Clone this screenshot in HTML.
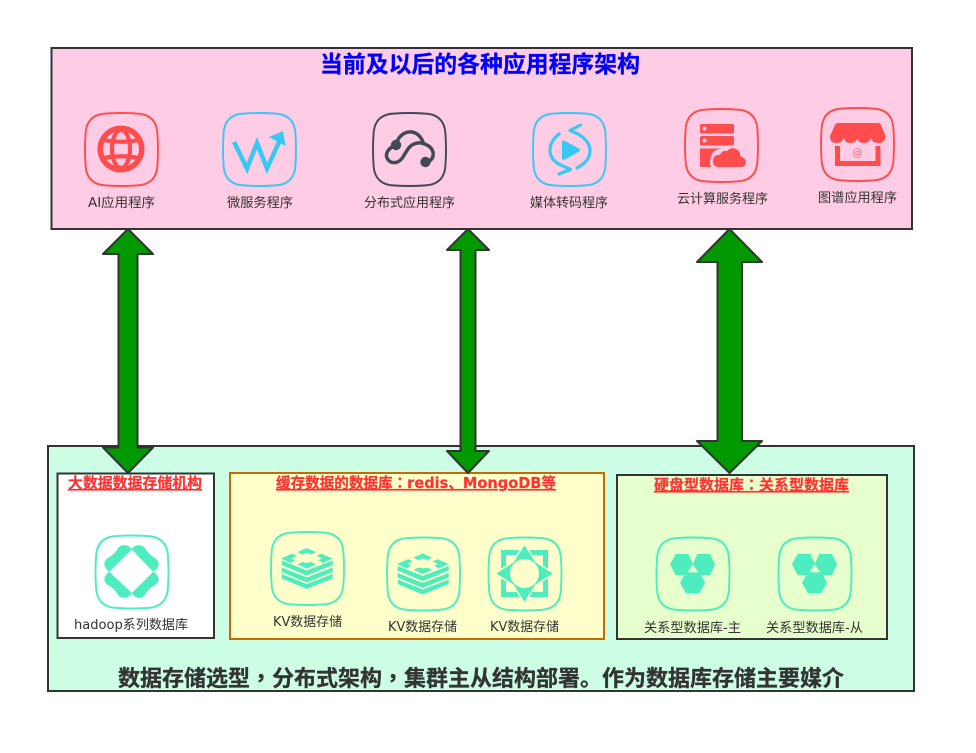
<!DOCTYPE html>
<html><head><meta charset="utf-8">
<style>
html,body{margin:0;padding:0;background:#fff}
svg{display:block}
text{font-family:"DejaVu Sans","Noto Sans CJK SC",sans-serif;}
.l{font-size:13px;fill:#333}
.h{font-size:15px;font-weight:bold;fill:#FF3333;text-decoration:underline;stroke:#FF3333;stroke-width:.2}
.p{font-family:"Noto Sans CJK TC",sans-serif}
.s{fill:none;stroke-width:1.9}
</style></head><body>
<svg width="976" height="753" viewBox="0 0 976 753" xmlns="http://www.w3.org/2000/svg">
<defs>
<path id="sq" d="M22 0.5 Q36.5 -0.5 51 0.5 Q72 1 72.5 22 Q73.5 36.5 72.5 51 Q72 72 51 72.5 Q36.5 73.5 22 72.5 Q1 72 0.5 51 Q-0.5 36.5 0.5 22 Q1 1 22 0.5Z"/>
<g id="redis" fill="#4EEDBF">
<path d="M26.500 20 L35.700 16 L45 20 L40.500 22.500 L35.700 21 L31 22.500 Z"/>
<path d="M10 26.500 L21 21.800 L26 23.700 L20.500 26.300 L24 28.200 L19.500 31 Z"/>
<path d="M61.400 26.500 L50.400 21.800 L45.400 23.700 L50.900 26.300 L47.400 28.200 L51.900 31 Z"/>
<path d="M26.500 32.500 L31.500 30 L35.700 31 L40 30 L45 32.500 L35.700 36.500 Z"/>
<path d="M10.700 28.500 L35.700 38.500 L61.700 28.500 L61.700 33 L35.700 43.500 L10.700 33 Z"/>
<path d="M10.700 35.500 L35.700 45.500 L61.700 35.500 L61.700 40 L35.700 50.500 L10.700 40 Z"/>
<path d="M10.700 42 L35.700 52 L61.700 42 L61.700 46.500 L35.700 57 L10.700 46.500 Z"/>
</g>
<g id="hex" fill="#4EEDBF">
<path d="M13.500 26.800 L19.200 16.500 H31.800 L36.800 26.800 L31.800 37.500 H19.200 Z"/>
<path d="M36.200 26.800 L40.800 16.500 H53.500 L58.500 26.800 L53.500 37.500 H40.800 Z"/>
<path d="M23.500 45.200 L29.500 34.800 H42.800 L48.500 45.200 L42.800 55.800 H29.500 Z"/>
</g>
</defs>

<!-- top box -->
<rect x="51.500" y="48" width="860.500" height="181" fill="#FFCCE6" stroke="#333" stroke-width="2"/>
<text x="320" y="72" font-size="23" font-weight="bold" fill="#0000FF" stroke="#0000FF" stroke-width=".3" textLength="320" lengthAdjust="spacingAndGlyphs">当前及以后的各种应用程序架构</text>

<!-- bottom box -->
<rect x="48" y="446" width="866" height="245" fill="#CCFFE6" stroke="#333" stroke-width="2"/>
<rect x="57.500" y="473.500" width="156.500" height="164.500" fill="#fff" stroke="#333" stroke-width="2"/>
<rect x="230" y="473" width="374" height="166" fill="#FFFFCC" stroke="#C76A00" stroke-width="2"/>
<rect x="617" y="475" width="270" height="164" fill="#E6FFCC" stroke="#333" stroke-width="2"/>

<text class="h" x="68" y="488" textLength="134" lengthAdjust="spacingAndGlyphs">大数据数据存储机构</text>
<text class="h" x="276" y="488" textLength="280" lengthAdjust="spacingAndGlyphs">缓存数据的数据库<tspan class="p">：</tspan>redis、MongoDB等</text>
<text class="h" x="654" y="490" textLength="195" lengthAdjust="spacingAndGlyphs">硬盘型数据库<tspan class="p">：</tspan>关系型数据库</text>
<text x="118" y="686" font-size="22" font-weight="bold" fill="#333" stroke="#333" stroke-width=".3" textLength="726" lengthAdjust="spacingAndGlyphs">数据存储选型<tspan class="p">，</tspan>分布式架构<tspan class="p">，</tspan>集群主从结构部署。作为数据库存储主要媒介</text>

<!-- arrows -->
<g fill="#009900" stroke="#333" stroke-width="2" stroke-linejoin="round">
<path d="M128 229 L153 254 H137.500 V447.500 H153 L128 473 L103 447.500 H118.500 V254 H103 Z"/>
<path d="M468 229 L489 250 H475.500 V451 H489 L468 473 L447 451 H460.500 V250 H447 Z"/>
<path d="M729.500 229 L762 262 H742 V441 H762 L729.500 473 L697 441 H717.500 V262 H697 Z"/>
</g>

<!-- AI icon -->
<use href="#sq" x="85" y="113" class="s" fill="none" stroke="#FF4D4D"/>
<circle cx="121" cy="149" r="23.500" fill="#FF4D4D"/>
<circle cx="121" cy="149" r="18" fill="#FFCCE6"/>
<g fill="none" stroke="#FF4D4D" stroke-width="4.200">
<ellipse cx="121" cy="149" rx="9" ry="19"/>
<path d="M103 140 Q121 143.500 139 140"/>
<path d="M103 158 Q121 154.500 139 158"/>
</g>

<!-- W icon -->
<use href="#sq" x="223" y="113" class="s" fill="none" stroke="#38C8F5"/>
<path d="M234 142 L247 168.500 L257 143 L267 168.500 L279 142" fill="none" stroke="#38C8F5" stroke-width="4.500"/>
<path d="M269 137 L283 131 L285.500 146 Z" fill="#38C8F5"/>

<!-- distributed icon -->
<use href="#sq" x="373" y="113" class="s" fill="none" stroke="#414955"/>
<path d="M397 145 C389 147 385 153 387 158 C390 164 397 164 401.500 159 C405 155 408 146 414 144 C421 141 431 145 433 152 C434 158 431 161 426 162" fill="none" stroke="#414955" stroke-width="3.500"/>
<path d="M396 145 C398 136 405 131 412 132 C418 133 422 138 424 145" fill="none" stroke="#414955" stroke-width="3.500"/>
<circle cx="396" cy="145" r="5.200" fill="#414955"/>
<circle cx="425.500" cy="162" r="5.200" fill="#414955"/>

<!-- media icon -->
<use href="#sq" x="533" y="113" class="s" fill="none" stroke="#38C8F5"/>
<g fill="none" stroke="#38C8F5" stroke-width="3.200" stroke-linecap="round" stroke-linejoin="round">
<path d="M580.500 125 L570 130.500 L578 134 Q590 141 590 151 Q590 161 577 168"/>
<path d="M559 134 Q550 141 550 150 Q550 161 563 166 L570.500 169.500 L559 174"/>
</g>
<path d="M565 141 L579 148.500 Q581.500 150 579 151.500 L565 159.500 Q562 161 562 158 V142 Q562 139.500 565 141Z" fill="#38C8F5"/>

<!-- cloud icon -->
<use href="#sq" x="685" y="109" class="s" fill="none" stroke="#FF4D4D"/>
<rect x="700" y="124" width="34" height="9.500" rx="2" fill="#FF4D4D"/>
<rect x="700" y="136" width="34" height="9.500" rx="2" fill="#FF4D4D"/>
<circle cx="704.500" cy="128.500" r="2" fill="#FFCCE6"/>
<circle cx="704.500" cy="140.500" r="2" fill="#FFCCE6"/>
<path d="M700 148.500 H722 Q712 150 711 157 Q709 162 711 167 H701 Q700 167 700 166Z" fill="#FF4D4D"/>
<path d="M718 167 Q712 166 713 160 Q714 154 720 155 Q722 150 727 151 Q731 146 738 150 Q741 153 740 156 Q746 158 746 163 Q745 167 741 167 Z" fill="#FF4D4D"/>

<!-- shop icon -->
<use href="#sq" x="821" y="108" class="s" fill="none" stroke="#FF4D4D"/>
<path d="M838 123 H878 Q880 123 881 125 L885.500 136 Q885 143 879 143 Q872 143 871 138 Q869 143 864 143 Q858 143 857.500 138 Q856 143 850 143 Q845 143 844 138 Q842 143 836 143 Q830 143 830 136 L835 125 Q836 123 838 123Z" fill="#FF4D4D"/>
<path d="M837.500 146 V163.500 H878 V146" fill="none" stroke="#FF4D4D" stroke-width="5"/>
<text x="857.500" y="156" font-size="10.500" fill="#FF6B6B" text-anchor="middle">@</text>

<!-- hadoop icon -->
<use href="#sq" x="95.500" y="535.500" class="s" fill="none" stroke="#4EEDBF"/>
<path d="M131.700 549 C128 544 121 544 118 548 C116 552 113 555 108 558 C103 561 103 567 109.300 571.700 C103 576 103 582 108 585 C113 588 116 591 118 595 C121 599 128 599 131.700 593.300 C135 599 142 599 145 595 C147 591 150 588 155 585 C160 582 160 576 153.300 571.700 C160 567 160 561 155 558 C150 555 147 552 145 548 C142 544 135 544 131.700 549Z" fill="#4EEDBF"/>
<path d="M131.700 549.500 L153.300 571.700 L131.700 593 L109.300 571.700 Z" fill="#fff"/>

<!-- KV icons -->
<use href="#sq" x="271" y="532" class="s" fill="none" stroke="#4EEDBF"/>
<use href="#redis" x="271" y="532"/>
<use href="#sq" x="387" y="537.500" class="s" fill="none" stroke="#4EEDBF"/>
<use href="#redis" x="387" y="537.500"/>

<use href="#sq" x="488.500" y="537.500" class="s" fill="none" stroke="#4EEDBF"/>
<path d="M503.500 568 V552.500 H519 M530 552.500 H545.500 V568 M545.500 579 V594.500 H530 M519 594.500 H503.500 V579" fill="none" stroke="#4EEDBF" stroke-width="5"/>
<path d="M524.500 544 L536 562 L554 573.500 L536 585 L524.500 603 L513 585 L495 573.500 L513 562 Z" fill="#4EEDBF" stroke="#FFFFCC" stroke-width="1.500"/>
<circle cx="524.500" cy="573.500" r="14.500" fill="#FFFFCC"/>

<!-- hex icons -->
<use href="#sq" x="656.500" y="537.500" class="s" fill="none" stroke="#4EEDBF"/>
<use href="#hex" x="656.500" y="537.500"/>
<path d="M692.700 564.300 L687.500 572.300 H698.300 Z" fill="#E6FFCC"/>
<use href="#sq" x="778.500" y="537.500" class="s" fill="none" stroke="#4EEDBF"/>
<use href="#hex" x="778.500" y="537.500"/>
<path d="M814.700 564.300 L809.500 572.300 H820.300 Z" fill="#E6FFCC"/>

<!-- labels -->
<text class="l" x="88" y="207" textLength="67" lengthAdjust="spacingAndGlyphs">AI应用程序</text>
<text class="l" x="227" y="207" textLength="66" lengthAdjust="spacingAndGlyphs">微服务程序</text>
<text class="l" x="364" y="207" textLength="91" lengthAdjust="spacingAndGlyphs">分布式应用程序</text>
<text class="l" x="530" y="207" textLength="78" lengthAdjust="spacingAndGlyphs">媒体转码程序</text>
<text class="l" x="677" y="203" textLength="91" lengthAdjust="spacingAndGlyphs">云计算服务程序</text>
<text class="l" x="818" y="202" textLength="79" lengthAdjust="spacingAndGlyphs">图谱应用程序</text>
<text class="l" x="74" y="629" textLength="114" lengthAdjust="spacingAndGlyphs">hadoop系列数据库</text>
<text class="l" x="273" y="626" textLength="69" lengthAdjust="spacingAndGlyphs">KV数据存储</text>
<text class="l" x="388" y="631" textLength="69" lengthAdjust="spacingAndGlyphs">KV数据存储</text>
<text class="l" x="490" y="631" textLength="69" lengthAdjust="spacingAndGlyphs">KV数据存储</text>
<text class="l" x="644" y="632" textLength="97" lengthAdjust="spacingAndGlyphs">关系型数据库-主</text>
<text class="l" x="766" y="632" textLength="97" lengthAdjust="spacingAndGlyphs">关系型数据库-从</text>
</svg>
</body></html>
